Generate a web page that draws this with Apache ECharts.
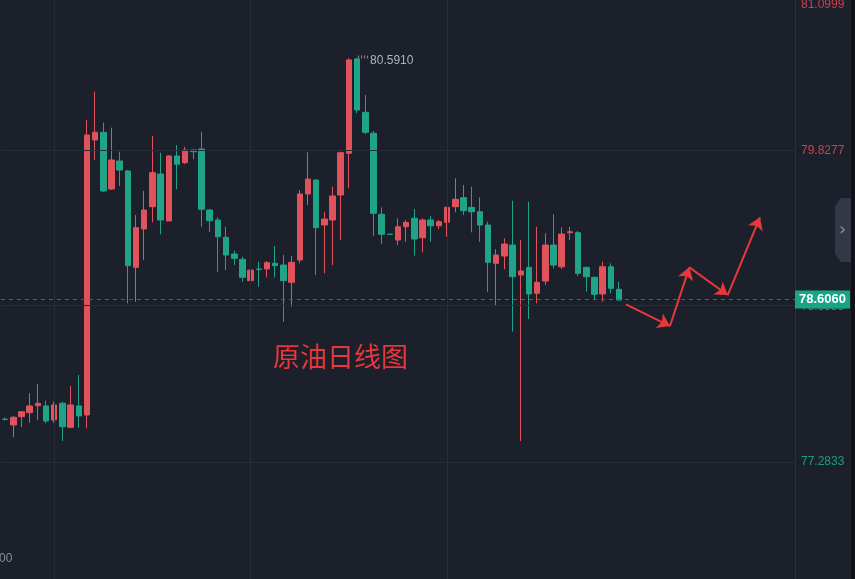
<!DOCTYPE html>
<html><head><meta charset="utf-8">
<script src="https://cdn.jsdelivr.net/npm/echarts@6/dist/echarts.min.js"></script>
<style>html,body{margin:0;padding:0;background:#1c202b;}#c{width:855px;height:579px;}</style>
</head><body><div id="c"></div>
<script>
// ---- data ----
const totalSlots = 97; // 76 candles + empty future slots
const categories = Array.from({length: totalSlots}, (_, i) => 'D' + (i + 1));
const opens  = [77.629,77.582,77.650,77.683,77.740,77.738,77.623,77.760,77.563,77.738,
                77.664,79.918,79.981,79.516,79.746,79.664,78.874,79.188,79.371,79.639,
                79.254,79.787,79.732,79.836,79.844,79.344,79.262,79.120,78.983,78.940,
                78.765,78.860,78.861,78.907,78.893,78.751,78.934,79.475,79.590,79.221,
                79.262,79.467,79.809,80.582,80.145,79.973,79.309,79.146,79.098,79.207,
                79.276,79.117,79.262,79.215,79.243,79.371,79.445,79.366,79.330,79.221,
                78.907,78.967,79.057,78.811,78.874,78.661,78.762,79.057,78.879,79.158,
                79.158,78.874,78.792,78.656,78.879,78.694];
const closes = [77.628,77.645,77.691,77.738,77.760,77.615,77.746,77.568,77.746,77.656,
                79.959,79.981,79.500,79.754,79.672,78.888,79.199,79.344,79.650,79.262,
                79.787,79.719,79.836,79.822,79.350,79.256,79.125,78.975,78.948,78.792,
                78.852,78.857,78.912,78.888,78.765,78.915,79.475,79.598,79.199,79.270,
                79.459,79.814,80.574,80.164,79.981,79.317,79.145,79.144,79.207,79.243,
                79.106,79.262,79.215,79.248,79.366,79.432,79.338,79.330,79.221,78.915,
                78.975,79.065,78.797,78.844,78.656,78.751,79.057,78.893,79.147,79.166,
                78.825,78.797,78.653,78.879,78.702,78.606];
const lows   = [77.619,77.481,77.565,77.601,77.623,77.596,77.601,77.451,77.555,77.560,
                77.555,79.754,79.494,79.508,79.541,78.579,78.592,78.934,79.243,79.145,
                79.254,79.514,79.721,79.762,79.207,79.166,78.838,78.852,78.893,78.756,
                78.751,78.715,78.792,78.792,78.429,78.551,78.907,79.385,78.811,78.825,
                78.893,79.098,79.522,80.137,79.965,79.133,79.065,79.140,79.057,79.084,
                78.970,78.997,79.084,79.188,79.125,79.325,79.303,79.161,79.084,78.674,
                78.565,78.858,78.347,77.451,78.451,78.579,78.729,78.866,78.861,79.098,
                78.803,78.674,78.606,78.592,78.661,78.598];
const highs  = [77.643,77.656,77.697,77.842,77.918,77.781,77.773,77.773,77.902,77.992,
                80.082,80.314,80.060,80.019,79.822,79.672,79.303,79.500,79.951,79.814,
                79.795,79.877,79.863,79.840,79.986,79.348,79.284,79.207,79.011,78.961,
                78.899,78.920,78.926,79.049,78.975,78.967,79.508,79.817,79.594,79.330,
                79.535,79.822,80.588,80.591,80.287,79.992,79.366,79.148,79.276,79.262,
                79.352,79.276,79.297,79.262,79.371,79.604,79.549,79.535,79.448,79.248,
                79.022,79.112,79.420,79.098,79.412,79.207,79.153,79.309,79.202,79.207,
                79.172,78.879,78.797,78.920,78.907,78.756];
const yTicks = [81.0999, 79.8277, 78.5555, 77.2833];
const lastPrice = 78.6060;
const maxHigh = 80.5910;
const chartTitle = '原油日线图';
const bottomLabel = '00';
// forecast arrow path (x = slot index, y = price)
const arrowPath = [[75.85,78.571],[81.23,78.393],[83.59,78.874],[88.28,78.647],[92.22,79.284]];
const vGridSlots = [6, 30, 54];

// ---- styles ----
const UP = '#e0525c', DOWN = '#1fa487';
const BG = '#1c202b', GRID = '#272c38';
const Y_MIN = 76.3195, Y_MAX = 81.0654;

const candles = opens.map((o, i) => [o, closes[i], lows[i], highs[i]]);
const maxIdx = highs.indexOf(Math.max(...highs));
const arrowSegs = [];
for (let i = 0; i < arrowPath.length - 1; i++) arrowSegs.push({coords: [arrowPath[i], arrowPath[i + 1]]});

const chart = echarts.init(document.getElementById('c'), null, {renderer: 'canvas'});
chart.setOption({
  animation: false,
  backgroundColor: BG,
  title: {text: chartTitle, left: 273, top: 343, padding: 0,
    textStyle: {color: '#e8363b', fontSize: 27, fontWeight: 'normal', fontFamily: 'Noto Sans CJK SC'}},
  grid: {left: 1, right: 60, top: 0, bottom: 0, outerBoundsMode: 'none', containLabel: false},
  xAxis: [
    {type: 'category', data: categories, boundaryGap: true,
     axisLine: {show: false}, axisTick: {show: false}, axisLabel: {show: false}, splitLine: {show: false}},
    {type: 'value', min: -0.5, max: totalSlots - 0.5, show: false,
     axisLine: {show: false, onZero: false}, splitLine: {show: false}}
  ],
  yAxis: [{
    type: 'value', position: 'right', min: Y_MIN, max: Y_MAX,
    splitLine: {show: false},
    axisLine: {show: true, onZero: false, lineStyle: {color: '#2a2f3b'}},
    axisTick: {show: false},
    axisLabel: {
      customValues: yTicks.filter(v => v < Y_MAX),
      formatter: v => v.toFixed(4),
      color: v => v > lastPrice ? '#c8434f' : '#1d9c80',
      fontSize: 12, margin: 6, fontFamily: 'Liberation Sans'
    }
  }],
  series: [
    {
      type: 'line', xAxisIndex: 1, yAxisIndex: 0, data: [], z: 1, silent: true,
      markLine: {
        silent: true, symbol: 'none', label: {show: false}, animation: false,
        lineStyle: {color: GRID, type: 'solid', width: 1},
        data: yTicks.filter(v => v < Y_MAX).map(v => ({yAxis: v}))
          .concat(vGridSlots.map(s => ({xAxis: s})))
      }
    },
    {
      type: 'candlestick', xAxisIndex: 0, yAxisIndex: 0, data: candles, barWidth: 6, z: 3,
      itemStyle: {color: UP, color0: DOWN, borderColor: UP, borderColor0: DOWN, borderWidth: 1},
      markPoint: {
        silent: true, animation: false,
        symbol: 'path://M0,0h1v3h-1zM3,0h1v3h-1zM6,0h1v3h-1zM9,0h1v3h-1z',
        symbolSize: [10, 3], symbolOffset: [6, -1],
        itemStyle: {color: '#8b8f99'},
        label: {show: true, position: 'right', distance: 2, offset: [0, 4],
          formatter: () => maxHigh.toFixed(4), color: '#b0b3bb', fontSize: 12, fontFamily: 'Liberation Sans'},
        data: [{coord: [categories[maxIdx], maxHigh]}]
      }
    },
    {
      type: 'line', xAxisIndex: 1, yAxisIndex: 0, data: [], z: 10, silent: true,
      markLine: {
        silent: true, symbol: 'none', animation: false,
        lineStyle: {color: '#33706b', type: [4, 4], width: 1},
        label: {show: true, position: 'end', distance: 0, formatter: () => lastPrice.toFixed(4),
          backgroundColor: '#17a584', color: '#ffffff', fontWeight: 'bold', fontSize: 13,
          fontFamily: 'Liberation Sans', padding: [3, 4, 2, 4]},
        data: [{yAxis: lastPrice}]
      }
    },
    {
      type: 'lines', coordinateSystem: 'cartesian2d', xAxisIndex: 1, yAxisIndex: 0, z: 6,
      symbol: ['none', 'arrow'], symbolSize: 12, silent: true,
      lineStyle: {color: '#e8383b', width: 2, opacity: 1, curveness: 0},
      data: arrowSegs
    }
  ],
  graphic: [
    {type: 'text', left: 801, top: -1, z: 10,
     style: {text: yTicks[0].toFixed(4), fill: '#c8434f', fontSize: 12, fontFamily: 'Liberation Sans'}},
    {type: 'text', left: -1, top: 553, z: 10,
     style: {text: bottomLabel, fill: '#8a8e99', fontSize: 12, fontFamily: 'Liberation Sans'}},
    {type: 'polygon', z: 10,
     shape: {points: [[851,198],[841,198],[835,206],[835,254],[841,262],[851,262]]},
     style: {fill: '#323846'}},
    {type: 'text', left: 839, top: 221, z: 11,
     style: {text: '›', fill: '#8d929c', fontSize: 18, fontFamily: 'DejaVu Sans'}},
    {type: 'rect', z: 12, shape: {x: 851, y: 0, width: 4, height: 579}, style: {fill: '#0e1117'}}
  ]
});
</script></body></html>
